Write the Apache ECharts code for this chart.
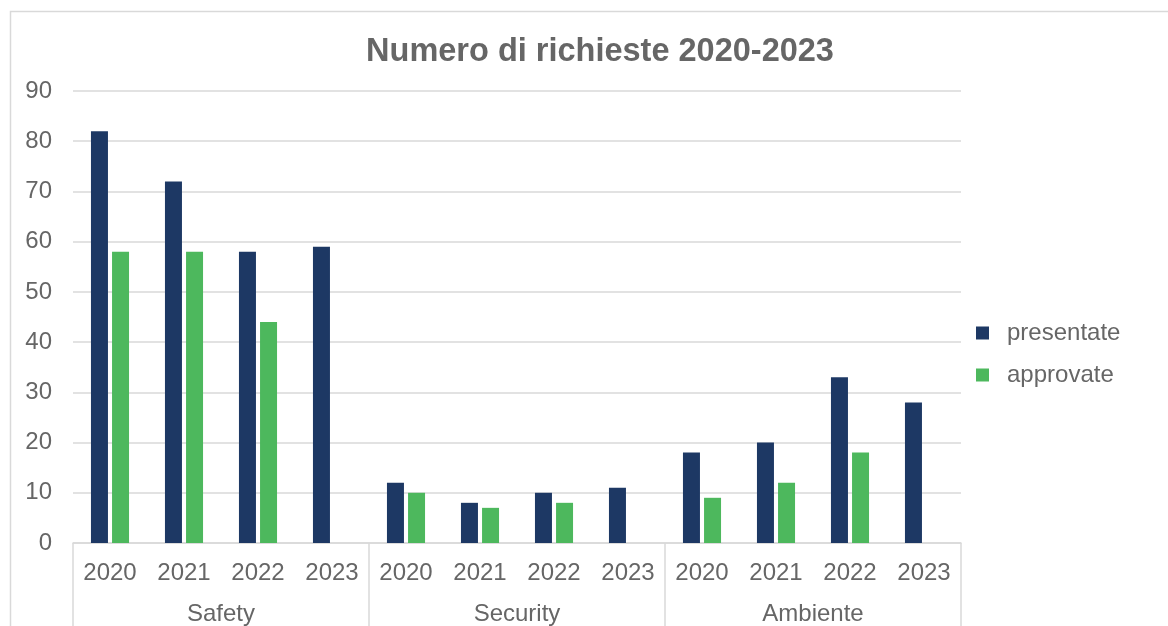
<!DOCTYPE html>
<html>
<head>
<meta charset="utf-8">
<script src="https://cdn.jsdelivr.net/npm/echarts@6/dist/echarts.min.js"></script>
<style>html,body{margin:0;padding:0;background:#fff}#c{width:1168px;height:626px}</style>
</head>
<body>
<div id="c"></div>
<script>
const years = ['2020','2021','2022','2023','2020','2021','2022','2023','2020','2021','2022','2023'];
const groups = ['Safety','Security','Ambiente'];
const presentate = [82,72,58,59,12,8,10,11,18,20,33,28];
const approvate = [58,58,44,null,10,7,8,null,9,12,18,null];
const yTicks = {min:0, max:90, interval:10};

const txt = '#666666';
const font = 'Liberation Sans, Arial, sans-serif';
const chart = echarts.init(document.getElementById('c'));
chart.setOption({
  animation:false,
  textStyle:{fontFamily:font},
  title:{text:'Numero di richieste 2020-2023', left:595, top:47, textAlign:'center', textVerticalAlign:'middle',
    textStyle:{fontSize:32.5, fontWeight:'bold', color:'#666666', fontFamily:font}},
  graphic:[{type:'rect', shape:{x:10.5,y:11.5,width:1300,height:800}, style:{fill:'none', stroke:'#d9d9d9', lineWidth:1.5}, silent:true, z:-10}],
  legend:{orient:'vertical', left:971, top:316, itemWidth:13, itemHeight:13, itemGap:18, icon:'rect',
    textStyle:{fontSize:24, color:txt, fontFamily:font, lineHeight:24, padding:[0,0,0,13]},
    data:['presentate','approvate']},
  grid:{left:73, right:207, top:91, bottom:83, containLabel:false},
  xAxis:[
    {type:'category', data:years, position:'bottom',
     axisLine:{show:true, lineStyle:{color:'#d9d9d9', width:1.5}},
     axisTick:{show:false},
     axisLabel:{fontSize:24, color:txt, margin:18, interval:0}},
    {type:'category', data:groups, position:'bottom', gridIndex:0,
     axisLine:{show:false},
     axisTick:{show:true, length:90, interval:0, lineStyle:{color:'#d9d9d9', width:1.5}},
     axisLabel:{fontSize:24, color:txt, margin:59, interval:0}}
  ],
  yAxis:{type:'value', min:yTicks.min, max:yTicks.max, interval:yTicks.interval,
    axisLine:{show:false}, axisTick:{show:false},
    axisLabel:{fontSize:24, color:txt, margin:21},
    splitLine:{lineStyle:{color:'#d9d9d9', width:1.5}}},
  series:[
    {name:'presentate', type:'bar', data:presentate, barWidth:17, barGap:'24%', itemStyle:{color:'#1d3864'}},
    {name:'approvate', type:'bar', data:approvate, barWidth:17, barGap:'24%', itemStyle:{color:'#4db85d'}}
  ]
});
</script>
</body>
</html>
